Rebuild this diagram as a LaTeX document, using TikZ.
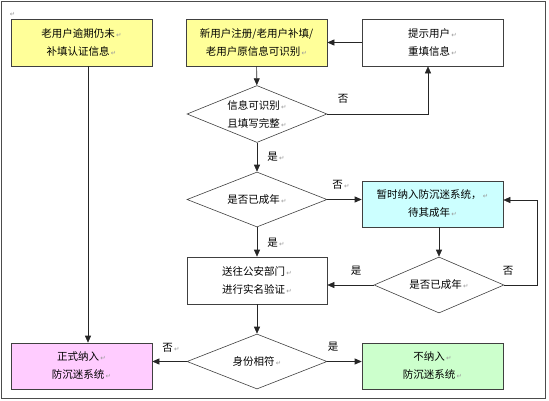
\documentclass[tikz,border=0pt]{standalone}
\usepackage{fontspec}
\usetikzlibrary{arrows.meta,shapes.geometric,calc}
\newfontfamily\cjkfont{Noto Sans CJK SC}
\newfontfamily\symfont{DejaVu Sans}
\definecolor{lightyellow}{HTML}{FFFF99}
\definecolor{lightcyan}{HTML}{CCFFFF}
\definecolor{lightpink}{HTML}{FFCCFF}
\definecolor{lightgreen}{HTML}{CCFFCC}
\newcommand{\ret}{{\symfont\color{black!40}\fontsize{6.5}{6.5}\selectfont\,↵}}

\begin{document}
\begin{tikzpicture}[x=1pt,y=-1pt,
    boxstyle/.style={rectangle,draw=black!75,line width=0.6pt,minimum width=141pt,minimum height=47pt,
        inner sep=0,align=center,font=\cjkfont\fontsize{10.5}{18}\selectfont},
    decstyle/.style={diamond,draw=black!75,line width=0.6pt,minimum width=140pt,minimum height=56pt,
        shape aspect=2.5,inner sep=0,align=center,font=\cjkfont\fontsize{10.5}{18}\selectfont},
    lblstyle/.style={inner sep=0,font=\cjkfont\fontsize{10.5}{12}\selectfont},
    flow/.style={draw=black!85,line width=0.6pt,-{Triangle[length=7pt,width=6pt]}}]
    \useasboundingbox (0,0) rectangle (549,400);
    \draw[black!70,line width=0.8pt] (1,1) rectangle (545.5,398.5);
    \node[inner sep=0] (mark) at (12,14) {\ret};
    % boxes
    \node[boxstyle,fill=lightyellow] (old) at (81.5,42.5) {老用户逾期仍未\ret\\补填认证信息\ret};
    \node[boxstyle,fill=lightyellow] (new) at (256.5,42.5) {新用户注册/老用户补填/\\老用户原信息可识别\ret};
    \node[boxstyle] (tip) at (432.5,42.5) {提示用户\ret\\重填信息\ret};
    \node[boxstyle,fill=lightcyan,minimum height=46pt] (wait) at (432.5,204) {暂时纳入防沉迷系统，\ret\\待其成年\ret};
    \node[boxstyle,minimum width=140pt] (police) at (257,280.5) {送往公安部门\ret\\进行实名验证\ret};
    \node[boxstyle,fill=lightpink,minimum height=46pt] (formal) at (81.5,366) {正式纳入\ret\\防沉迷系统\ret};
    \node[boxstyle,fill=lightgreen,minimum height=46pt] (notin) at (432.5,366) {不纳入\ret\\防沉迷系统\ret};
    % decisions
    \node[decstyle,minimum height=57pt] (check) at (257,114) {信息可识别\ret\\且填写完整\ret};
    \node[decstyle,minimum height=55pt] (adult) at (257,199.5) {是否已成年\ret};
    \node[decstyle,minimum width=130pt] (adultb) at (439,285) {是否已成年\ret};
    \node[decstyle,minimum height=55pt] (match) at (257,361.5) {身份相符\ret};
    % labels
    \node[lblstyle] (lno1) at (343,99) {否};
    \node[lblstyle] (lyes1) at (276,157) {是\ret};
    \node[lblstyle] (lno2) at (341,185) {否\ret};
    \node[lblstyle] (lyes2) at (276,243) {是\ret};
    \node[lblstyle] (lyes3) at (356,271) {是};
    \node[lblstyle] (lno3) at (508,271) {否};
    \node[lblstyle] (lyes4) at (333,347) {是};
    \node[lblstyle] (lno4) at (171,348) {否\ret};
    % connectors
    \coordinate (drop) at (88,66);
    \coordinate (back) at (537,200);
    \draw[flow] (new) -- (check);
    \draw[flow] (tip) -- (new);
    \draw[flow] (check.east) -| ([xshift=-4.5pt]tip.south);
    \draw[flow] (check) -- (adult);
    \draw[flow] (adult.east) -- (adult.east -| wait.west);
    \draw[flow] (adult) -- (police);
    \draw[flow] (wait.south -| adultb.north) -- (adultb.north);
    \draw[flow] (adultb.east) -| (back) -- (back -| wait.east);
    \draw[flow] (adultb.west) -- (adultb.west -| police.east);
    \draw[flow] (police) -- (match);
    \draw[flow] (match.east) -- (match.east -| notin.west);
    \draw[flow] (match.west) -- (match.west -| formal.east);
    \draw[flow] (drop) -- (drop |- formal.north);
\end{tikzpicture}
\end{document}
